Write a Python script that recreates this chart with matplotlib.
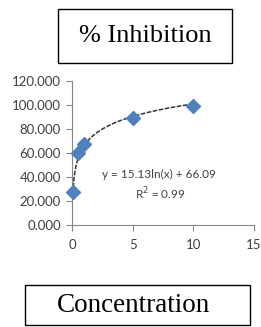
import numpy as np
import matplotlib
matplotlib.use("Agg")
import matplotlib.pyplot as plt
from matplotlib.patches import Rectangle

# data
conc = [0.1, 0.5, 1.0, 5.0, 10.0]
inhibition = [27.5, 60.0, 67.5, 89.2, 99.2]
fit_a = 15.13
fit_b = 66.09
r2 = 0.99
xticks = [0, 5, 10, 15]
yticks = [0, 20, 40, 60, 80, 100, 120]

W, H = 261, 327
fig = plt.figure(figsize=(W / 100, H / 100), dpi=100)

ax = fig.add_axes([72 / W, 1 - 225 / H, (254 - 72) / W, (225 - 81) / H])
ax.set_xlim(0, 15)
ax.set_ylim(0, 120)

# log trendline
xs = np.linspace(min(conc), max(conc), 200)
ax.plot(xs, fit_a * np.log(xs) + fit_b, color="#333333", lw=1.1,
        linestyle=(0, (3, 1)), zorder=2)
ax.plot(conc, inhibition, linestyle="none", marker="D", markersize=7,
        color="#4F81BD", zorder=3, clip_on=False)

ax.text(7.2, 42.5, "y = %.2fln(x) + %.2f" % (fit_a, fit_b), ha="center",
        va="center", fontsize=8.5, color="#404040", family="Lato")
ax.text(7.3, 26, "R$^2$ = %.2f" % r2, ha="center", va="center",
        fontsize=8.5, color="#404040", family="Lato")

ax.set_xticks(xticks)
ax.set_yticks(yticks)
ax.set_yticklabels(["%.3f" % v for v in yticks])
for s in ["top", "right"]:
    ax.spines[s].set_visible(False)
for s in ["left", "bottom"]:
    ax.spines[s].set_color("#868686")
    ax.spines[s].set_linewidth(0.8)
ax.tick_params(direction="out", length=4, width=0.8, color="#868686",
               labelsize=9.5, labelcolor="#404040", pad=4)
for lab in ax.get_xticklabels() + ax.get_yticklabels():
    lab.set_family("Lato")
ax.tick_params(axis="x", pad=6)

# title boxes
fig.patches.append(Rectangle((58 / W, 1 - 63 / H), (232 - 58) / W, (63 - 9) / H,
                             transform=fig.transFigure, fill=False,
                             edgecolor="black", lw=1.0))
fig.text(145 / W, 1 - 36 / H, "% Inhibition", ha="center", va="center",
         fontsize=19, family="Liberation Serif")
fig.patches.append(Rectangle((25 / W, 1 - 325 / H), (250 - 25) / W, (325 - 285) / H,
                             transform=fig.transFigure, fill=False,
                             edgecolor="black", lw=1.0))
fig.text(134 / W, 1 - 305 / H, "Concentration", ha="center", va="center",
         fontsize=19.5, family="Liberation Serif")

fig.savefig("out.png", dpi=100)
